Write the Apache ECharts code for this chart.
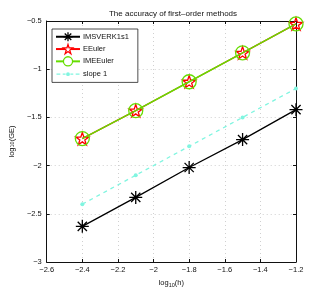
<!DOCTYPE html>
<html><head><meta charset="utf-8">
<script src="https://cdn.jsdelivr.net/npm/echarts@6/dist/echarts.min.js"></script>
<style>html,body{margin:0;padding:0;background:#fff}#c{width:327px;height:294px}</style>
</head><body><div id="c"></div>
<script>
const logH = [-2.4, -2.1, -1.8, -1.5, -1.2];
const imsverk = [-2.63, -2.33, -2.02, -1.73, -1.42];
const eeuler = [-1.72, -1.43, -1.13, -0.83, -0.53];
const imeeuler = [-1.72, -1.43, -1.13, -0.83, -0.53];
const slope1 = [-2.4, -2.1, -1.8, -1.5, -1.2];
const title = 'The accuracy of first\u2013order methods';
const seriesNames = ['IMSVERK1s1', 'EEuler', 'IMEEuler', 'slope 1'];

const FONT = 'Liberation Sans';
const pair = (ys) => logH.map((x, i) => [x, ys[i]]);
const minus = v => (v < 0 ? '\u2212' : '') + String(Math.abs(Math.round(v * 10) / 10));
const starPath = 'path://M10,0 L12.25,6.91 L19.51,6.91 L13.63,11.18 L15.88,18.09 L10,13.82 L4.12,18.09 L6.37,11.18 L0.49,6.91 L7.75,6.91 Z';
const astPath = 'path://M10,0 L10,20 M0,10 L20,10 M2.9,2.9 L17.1,17.1 M17.1,2.9 L2.9,17.1';
const dashDotIcon = 'path://M0,5.4 L4,5.4 L4,6.6 L0,6.6 Z M6.5,5.4 L9.5,5.4 L9.5,6.6 L6.5,6.6 Z M10,6 A2,2 0 1 0 14,6 A2,2 0 1 0 10,6 Z M14.5,5.4 L17.5,5.4 L17.5,6.6 L14.5,6.6 Z M20,5.4 L24,5.4 L24,6.6 L20,6.6 Z M0,0 L0.01,0 Z M24,12 L23.99,12 Z';
const BLACK = '#000', RED = '#ff0000', GREEN = '#66dd00', CYAN = '#80f5e0';

const grid = {left: 42.5, right: 31, top: 21, bottom: 32};
const axBase = {
  axisLine: {show: true, onZero: false, lineStyle: {color: '#111', width: 1}},
  axisTick: {show: true, inside: true, length: 3, lineStyle: {color: '#111'}},
  splitLine: {show: false},
};
const gridLine = {show: true, lineStyle: {color: '#c4c4c4', type: [1, 3], width: 0.8}};
const chart = echarts.init(document.getElementById('c'), null, {renderer: 'canvas'});
chart.setOption({
  animation: false,
  backgroundColor: '#fff',
  textStyle: {fontFamily: FONT},
  title: {text: title, left: 168, textAlign: 'center', top: 5,
    textStyle: {fontSize: 8, fontWeight: 'normal', color: '#111', fontFamily: FONT}},
  grid: grid,
  legend: {
    data: [
      {name: seriesNames[0], itemStyle: {color: '#fff', borderColor: BLACK, borderWidth: 1.3}},
      {name: seriesNames[1], itemStyle: {color: '#fff', borderColor: RED, borderWidth: 1.3}},
      {name: seriesNames[2], itemStyle: {color: '#fff', borderColor: GREEN, borderWidth: 1.3}},
      {name: seriesNames[3], icon: dashDotIcon, itemStyle: {color: CYAN, borderWidth: 0}}
    ],
    orient: 'vertical', left: 52, top: 29,
    backgroundColor: '#fff', borderColor: '#222', borderWidth: 0.8, borderRadius: 0,
    padding: [2.5, 9, 2.5, 3], itemGap: 1.8, itemWidth: 24, itemHeight: 11.5,
    textStyle: {fontSize: 7.5, color: '#111', fontFamily: FONT, padding: [0,0,0,-2]}
  },
  xAxis: [
    Object.assign({}, axBase, {type: 'value', min: -2.6, max: -1.2, interval: 0.2,
      axisLabel: {formatter: minus, fontSize: 7.5, color: '#111', margin: 4, fontFamily: FONT},
      splitLine: gridLine,
      name: 'log{s|10}(h)', nameLocation: 'middle', nameGap: 15,
      nameTextStyle: {fontSize: 7.5, color: '#111', fontFamily: FONT,
        rich: {s: {fontSize: 5.5, verticalAlign: 'bottom', padding: [5, 0, 0, 0], fontFamily: FONT, color: '#111'}}}}),
    Object.assign({}, axBase, {type: 'value', position: 'top', min: -2.6, max: -1.2, interval: 0.2,
      axisLabel: {show: false}})
  ],
  yAxis: [
    Object.assign({}, axBase, {type: 'value', min: -3, max: -0.5, interval: 0.5,
      axisLabel: {formatter: minus, fontSize: 7.5, color: '#111', margin: 5, fontFamily: FONT},
      splitLine: gridLine,
      name: 'log{s|10}(GE)', nameLocation: 'middle', nameGap: 18, nameRotate: 90,
      nameTextStyle: {fontSize: 7.5, color: '#111', fontFamily: FONT,
        rich: {s: {fontSize: 5.5, fontFamily: FONT, color: '#111'}}}}),
    Object.assign({}, axBase, {type: 'value', position: 'right', min: -3, max: -0.5, interval: 0.5,
      axisLabel: {show: false}})
  ],
  series: [
    {name: seriesNames[0], type: 'line', data: pair(imsverk), symbol: astPath, symbolSize: 13,
      lineStyle: {color: BLACK, width: 1.3},
      itemStyle: {color: 'none', borderColor: BLACK, borderWidth: 1.3}, z: 3},
    {name: seriesNames[1], type: 'line', data: pair(eeuler), symbol: starPath, symbolSize: 13,
      symbolKeepAspect: true,
      lineStyle: {color: RED, width: 1.3},
      itemStyle: {color: 'none', borderColor: RED, borderWidth: 1.3}, z: 4},
    {name: seriesNames[2], type: 'line', data: pair(imeeuler), symbol: 'circle', symbolSize: 14,
      lineStyle: {color: GREEN, width: 1.5},
      itemStyle: {color: 'none', borderColor: GREEN, borderWidth: 1.3}, z: 5},
    {name: seriesNames[3], type: 'line', data: pair(slope1), symbol: 'circle', symbolSize: 4,
      lineStyle: {color: CYAN, width: 1.3, type: [4, 4]},
      itemStyle: {color: CYAN, borderWidth: 0}, z: 2}
  ]
});
</script></body></html>
